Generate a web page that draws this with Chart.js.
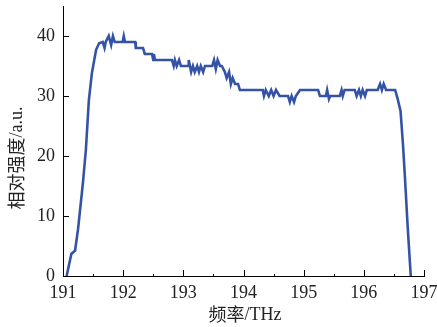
<!DOCTYPE html>
<html>
<head>
<meta charset="utf-8">
<script src="https://cdn.jsdelivr.net/npm/chart.js@4"></script>
<style>
  body { margin: 0; background: #fff; }
  #wrap { width: 437px; height: 327px; }
</style>
</head>
<body>
<div id="wrap"><canvas id="myChart" width="437" height="327"></canvas></div>
<script>
// spectrum
const freq = [
  191.06, 191.14, 191.20, 191.25, 191.33, 191.38, 191.43, 191.48, 191.55, 191.60,
  191.66, 191.69, 191.71, 191.76, 191.80, 191.83, 191.86, 191.90, 191.99, 192.01,
  192.03, 192.20, 192.21, 192.33, 192.36, 192.48, 192.50, 192.51, 192.53, 192.81,
  192.84, 192.86, 192.89, 192.93, 192.96, 193.08, 193.09, 193.13, 193.16, 193.19,
  193.23, 193.26, 193.29, 193.33, 193.36, 193.48, 193.51, 193.54, 193.57, 193.61,
  193.64, 193.69, 193.72, 193.76, 193.79, 193.82, 193.86, 193.91, 193.94, 194.32,
  194.34, 194.37, 194.42, 194.46, 194.50, 194.54, 194.60, 194.74, 194.77, 194.80,
  194.84, 194.87, 194.94, 195.24, 195.27, 195.37, 195.39, 195.42, 195.44, 195.60,
  195.63, 195.65, 195.68, 195.85, 195.88, 195.92, 195.95, 195.98, 196.02, 196.05,
  196.23, 196.27, 196.30, 196.33, 196.37, 196.52, 196.56, 196.61, 196.65, 196.68,
  196.73, 196.78
];
const intensity = [
  0, 3.7, 4.2, 7.8, 15.4, 21, 29.3, 33.8, 37.7, 38.8,
  39, 38, 39, 40, 38.5, 40, 39, 39, 39, 40,
  39, 39, 38, 38, 37, 37, 36, 37, 36, 36,
  35, 36, 35, 36, 35, 35, 36, 34, 35, 34,
  35, 34, 35, 34, 35, 35, 36, 34.5, 36, 35,
  35, 34, 33, 34, 32, 33, 32, 32, 31, 31,
  30, 31, 30, 31, 30, 31, 30, 30, 29, 30,
  29, 30, 31, 31, 30, 30, 31, 29.5, 30, 30,
  31, 30, 31, 31, 30, 31, 30, 31, 30, 31,
  31, 32, 31, 32, 31, 31, 29.6, 27.5, 22, 17,
  8, 0
];
const xTicks = [191, 192, 193, 194, 195, 196, 197];
const yTicks = [0, 10, 20, 30, 40];

const points = freq.map((f, i) => ({ x: f, y: intensity[i] }));

// inward ticks + axis titles
const axisDecor = {
  id: 'axisDecor',
  afterDraw(chart) {
    const ctx = chart.ctx;
    const xs = chart.scales.x, ys = chart.scales.y;
    const bottom = chart.chartArea.bottom, left = chart.chartArea.left;
    ctx.save();
    ctx.strokeStyle = '#000';
    ctx.lineWidth = 1;
    ctx.beginPath();
    for (let v = 191; v <= 197; v += 0.5) {
      const px = Math.round(xs.getPixelForValue(v)) + 0.5;
      const len = Number.isInteger(v) ? 6 : 2;
      ctx.moveTo(px, bottom);
      ctx.lineTo(px, bottom - len);
    }
    yTicks.forEach(v => {
      const py = Math.round(ys.getPixelForValue(v)) + 0.5;
      ctx.moveTo(left, py);
      ctx.lineTo(left + 6, py);
    });
    ctx.stroke();

    ctx.fillStyle = '#222';
    ctx.textBaseline = 'middle';
    const cjk = '18px "Noto Sans CJK SC"';
    const lat = '18px "Liberation Serif"';
    // x title
    ctx.font = cjk;
    const w1 = ctx.measureText('频率').width;
    ctx.font = lat;
    const w2 = ctx.measureText('/THz').width;
    let sx = 245 - (w1 + w2) / 2;
    ctx.textAlign = 'left';
    ctx.font = cjk;
    ctx.fillText('频率', sx, 314);
    ctx.font = lat;
    ctx.fillText('/THz', sx + w1, 315);
    // y title
    ctx.translate(16, 158);
    ctx.rotate(-Math.PI / 2);
    ctx.font = cjk;
    const w3 = ctx.measureText('相对强度').width;
    ctx.font = lat;
    const w4 = ctx.measureText('/a.u.').width;
    sx = -(w3 + w4) / 2;
    ctx.font = cjk;
    ctx.fillText('相对强度', sx, 0);
    ctx.font = lat;
    ctx.fillText('/a.u.', sx + w3, 1);
    ctx.restore();
  }
};

const ctx = document.getElementById('myChart').getContext('2d');
new Chart(ctx, {
  type: 'line',
  data: {
    datasets: [{
      data: points,
      borderColor: '#3553a6',
      borderWidth: 2.6,
      pointRadius: 0,
      tension: 0,
      fill: false
    }]
  },
  options: {
    responsive: false,
    animation: false,
    layout: { padding: { top: 6, right: 13, left: 0, bottom: 0 } },
    plugins: { legend: { display: false }, tooltip: { enabled: false } },
    scales: {
      x: {
        type: 'linear',
        min: 191,
        max: 197,
        afterBuildTicks: s => { s.ticks = xTicks.map(v => ({ value: v })); },
        afterFit: s => { s.height = 51; s.paddingLeft = 0; s.paddingRight = 0; },
        grid: { drawOnChartArea: false, drawTicks: false },
        border: { display: true, color: '#000', width: 1 },
        ticks: { color: '#222', padding: 6, maxRotation: 0, font: { family: 'Liberation Serif', size: 18 } }
      },
      y: {
        min: 0,
        max: 45,
        afterBuildTicks: s => { s.ticks = yTicks.map(v => ({ value: v })); },
        afterFit: s => { s.width = 63; s.paddingTop = 0; s.paddingBottom = 0; },
        grid: { drawOnChartArea: false, drawTicks: false },
        border: { display: true, color: '#000', width: 1 },
        ticks: { color: '#222', padding: 8, font: { family: 'Liberation Serif', size: 18 } }
      }
    }
  },
  plugins: [axisDecor]
});
</script>
</body>
</html>
